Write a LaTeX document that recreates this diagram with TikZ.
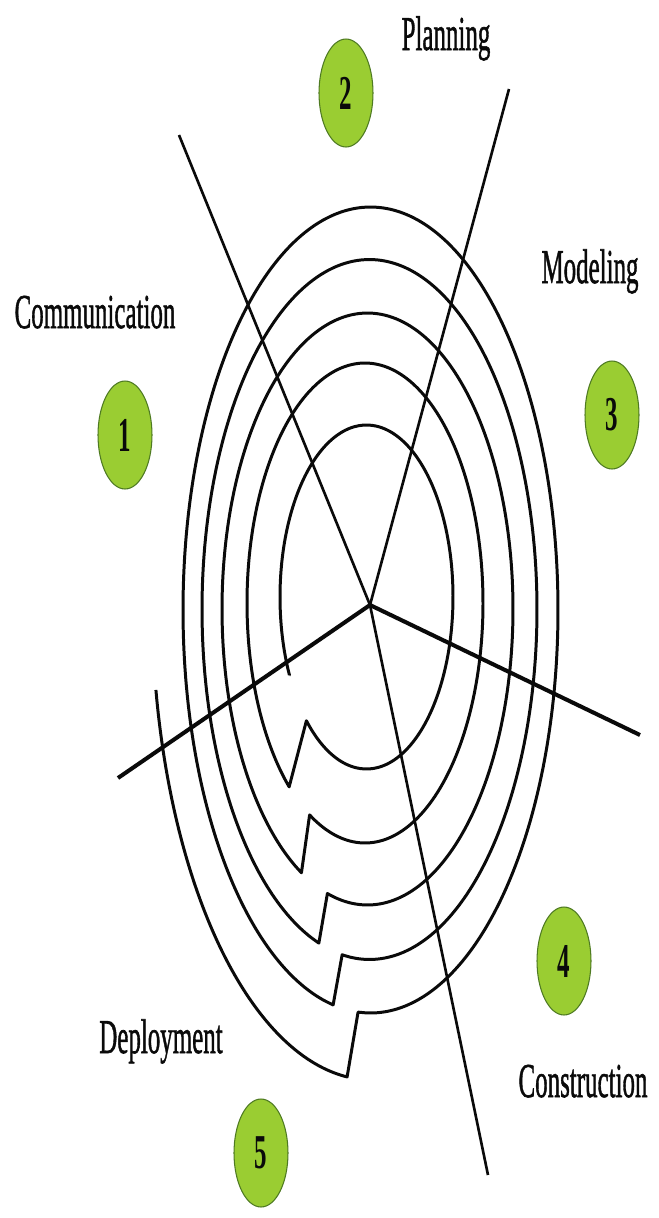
\documentclass[tikz,border=0pt]{standalone}
\usepackage{fontspec}
\setmainfont{Liberation Serif}
\newfontfamily\phasefont[FakeBold=1.4]{Liberation Serif}
\usepackage{graphicx}
\usepackage{tikz}
\usetikzlibrary{shapes.geometric}
\definecolor{ink}{HTML}{0A0A0A}
\definecolor{ballfill}{HTML}{9ACD32}
\definecolor{balledge}{HTML}{4E7A22}
\newcommand{\tall}[1]{\scalebox{1}[1.95]{#1}}
\tikzset{
  spiral/.style={ink, line width=1.7pt, line join=round},
  spoke/.style={ink, line width=1.5pt},
  heavyspoke/.style={ink, line width=2.3pt},
  phase/.style={font=\phasefont\fontsize{14.2}{16}\selectfont, text=ink, anchor=base, inner sep=0pt},
  ball/.style={ellipse, draw=balledge, fill=ballfill, line width=0.6pt,
               minimum width=1.08cm, minimum height=2.16cm, inner sep=0pt,
               font=\fontsize{14.2}{16}\selectfont\bfseries, text=ink},
}

\begin{document}
\begin{tikzpicture}[x=0.02cm, y=-0.02cm]
\useasboundingbox (0,0) rectangle (659,1218);

% ===================== spiral: five turns, a jog between turns =====================
\coordinate (ring0) at (289.4,675.1);
\draw[spiral] (ring0)
  \foreach \cx/\cy/\rx/\ry/\ts/\te in {366.5/597/86.5/172/153/494,
                                       365/603/118/240/130/478,
                                       367.5/609/145.5/296/117/466,
                                       369.5/609.5/167.5/350/107.6/459.4,
                                       370.5/610/187.5/403/101.5/453.8,
                                       372/600/220/480/96.5/169.2}{
    -- plot[domain=\ts:\te, samples=120, smooth, variable=\t]
         ({\cx+\rx*cos(\t)},{\cy+\ry*sin(\t)})
  };

% ===================== spokes from the hub =====================
\coordinate (hub) at (370,605);
\coordinate (tipNW) at (179,135);
\coordinate (tipN) at (509,89);
\coordinate (tipW) at (118,778);
\coordinate (tipE) at (640,735);
\coordinate (tipS) at (488,1175);
\draw[spoke] (hub) -- (tipNW);
\draw[spoke] (hub) -- (tipN);
\draw[spoke] (hub) -- (tipS);
\draw[heavyspoke] (hub) -- (tipW);
\draw[heavyspoke] (hub) -- (tipE);

% ===================== phase numbers =====================
\node[ball] (b1) at (125,435) {\tall{1}};
\node[ball] (b2) at (346,93) {\tall{2}};
\node[ball] (b3) at (612,415) {\tall{3}};
\node[ball] (b4) at (564,961) {\tall{4}};
\node[ball] (b5) at (261,1153) {\tall{5}};

% ===================== phase names =====================
\node[phase] (comm) at (95,328) {\tall{Communication}};
\node[phase] (plan) at (446,50) {\tall{Planning}};
\node[phase] (model) at (590,283) {\tall{Modeling}};
\node[phase] (constr) at (583,1097) {\tall{Construction}};
\node[phase] (deploy) at (161,1053) {\tall{Deployment}};

\end{tikzpicture}
\end{document}
